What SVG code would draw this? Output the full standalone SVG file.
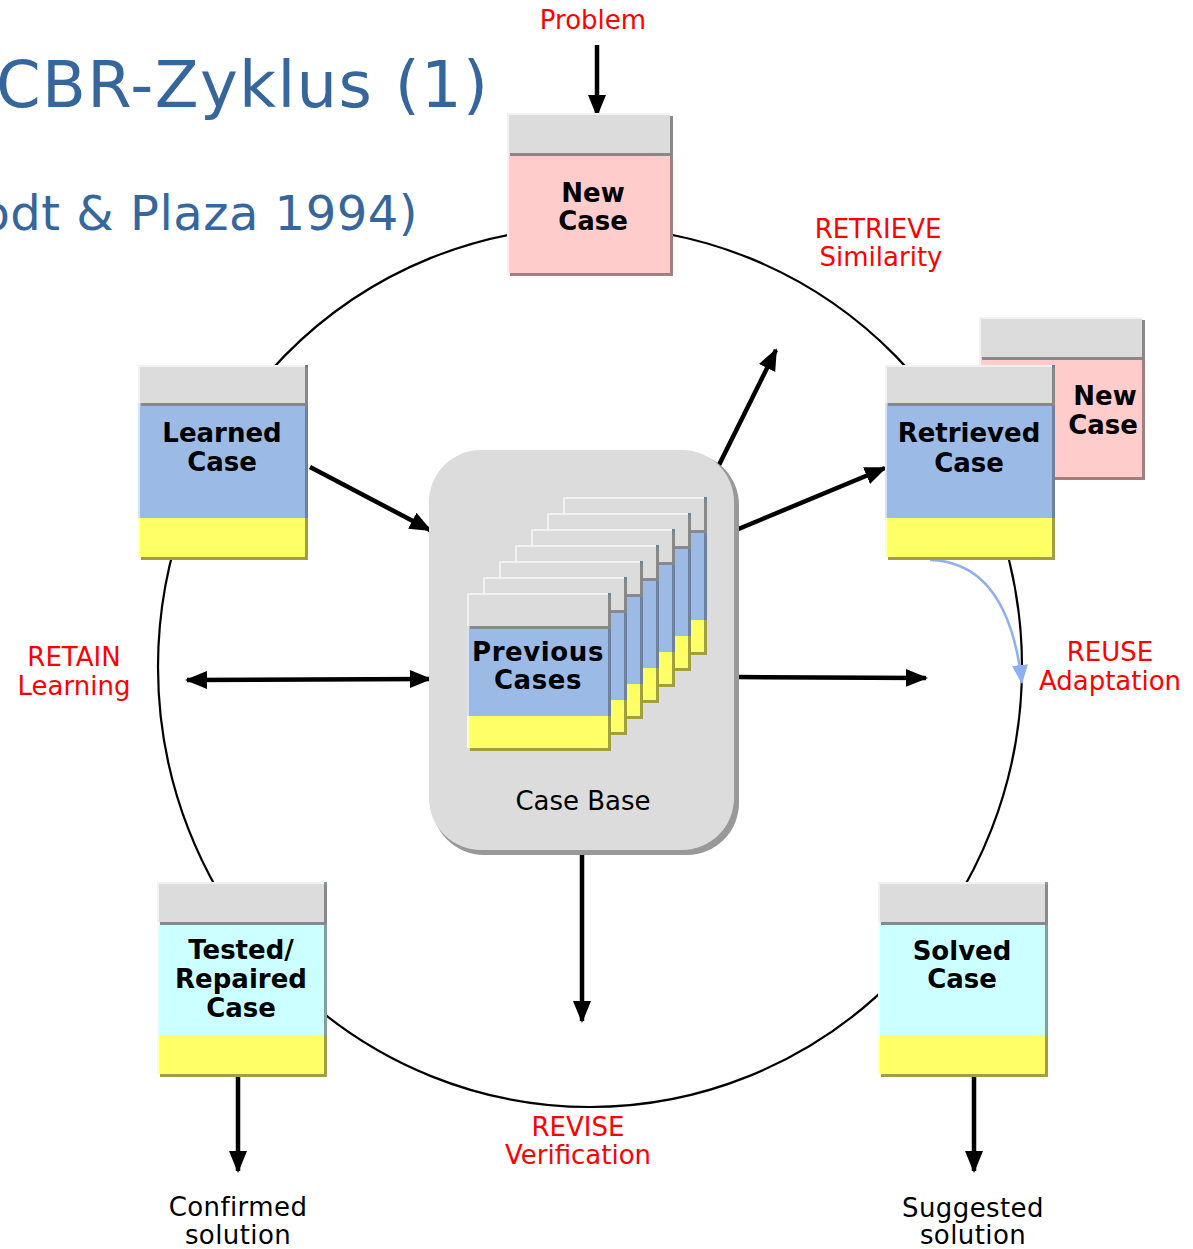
<svg xmlns="http://www.w3.org/2000/svg" width="1193" height="1249" viewBox="0 0 1193 1249">
<style>
.hd{fill:#dcdcdc}.hds{fill:#888888}
.bl{fill:#9bbae6}.bls{fill:#6d82a0}
.pk{fill:#ffcccc}.pks{fill:#a08080}
.cy{fill:#ccffff}.cys{fill:#80a0a0}
.ye{fill:#ffff66}.yes{fill:#a0a040}
.hl{fill:none;stroke:#ffffff;stroke-opacity:0.6;stroke-width:2}
.lbl{font-family:"DejaVu Sans",Verdana,sans-serif;font-weight:bold;font-size:26px;fill:#000;text-anchor:middle}
.red{font-family:"DejaVu Sans",Verdana,sans-serif;font-size:26px;fill:#ff0000;text-anchor:middle}
.blk{font-family:"DejaVu Sans",Verdana,sans-serif;font-size:26px;fill:#000;text-anchor:middle}
.ttl{font-family:"DejaVu Sans",Verdana,sans-serif;fill:#35679c}
.conn{stroke:#000;stroke-width:4.5;fill:none}
</style>
<defs>
<marker id="ah" markerUnits="userSpaceOnUse" markerWidth="24" markerHeight="20" refX="20" refY="9" orient="auto-start-reverse" viewBox="0 0 24 18">
<path d="M0,0 L22,9 L0,18 Z" fill="#000"/>
</marker>
<marker id="ahb" markerUnits="userSpaceOnUse" markerWidth="20" markerHeight="20" refX="18" refY="8" orient="auto" viewBox="0 0 20 16">
<path d="M0,0 L19,8 L0,16 Z" fill="#8fb0f0"/>
</marker>
</defs>

<rect width="1193" height="1249" fill="#ffffff"/>

<text class="ttl" x="-4" y="107" font-size="64" letter-spacing="1.3">CBR-Zyklus (1)</text>
<text class="ttl" x="418" y="230" font-size="48" text-anchor="end" letter-spacing="0.5">(Aamodt &amp; Plaza 1994)</text>

<ellipse cx="590" cy="667" rx="432" ry="440" fill="none" stroke="#000" stroke-width="2.2"/>

<g id="connectors">
<line class="conn" x1="597" y1="45" x2="597" y2="115" marker-end="url(#ah)"/>
<line class="conn" x1="310" y1="467" x2="430" y2="530" marker-end="url(#ah)"/>
<line class="conn" x1="718" y1="467" x2="776" y2="350" marker-end="url(#ah)"/>
<line class="conn" x1="736" y1="530" x2="885" y2="468" marker-end="url(#ah)"/>
<line class="conn" x1="187" y1="680" x2="430" y2="679" marker-start="url(#ah)" marker-end="url(#ah)"/>
<line class="conn" x1="737" y1="677" x2="926" y2="678" marker-end="url(#ah)"/>
<line class="conn" x1="582" y1="853" x2="582" y2="1021" marker-end="url(#ah)"/>
<line class="conn" x1="238" y1="1076" x2="238" y2="1171" marker-end="url(#ah)"/>
<line class="conn" x1="974" y1="1076" x2="974" y2="1171" marker-end="url(#ah)"/>
<path d="M930,560 Q1008,562 1022,683" fill="none" stroke="#8fb0f0" stroke-width="2.5" marker-end="url(#ahb)"/>
</g>

<g id="case-base">
<rect x="432" y="453" width="307" height="402" rx="52" fill="#999999"/>
<rect x="429" y="450" width="305" height="400" rx="52" fill="#dcdcdc"/>
<text class="blk" x="583" y="810">Case Base</text>
</g>

<g id="previous-cases">
<g transform="translate(563,497)">
<rect x="3" y="3" width="141" height="155" class="yes"/><rect x="3" y="0" width="141" height="123" class="bls"/><rect width="141" height="123" class="bl"/><rect y="123" width="141" height="32" class="ye"/><rect x="3" y="3" width="141" height="33" class="hds"/><rect width="141" height="33" class="hd"/><path class="hl" d="M1,155 L1,1 L141,1"/>
</g>
<g transform="translate(547,513)">
<rect x="3" y="3" width="141" height="155" class="yes"/><rect x="3" y="0" width="141" height="123" class="bls"/><rect width="141" height="123" class="bl"/><rect y="123" width="141" height="32" class="ye"/><rect x="3" y="3" width="141" height="33" class="hds"/><rect width="141" height="33" class="hd"/><path class="hl" d="M1,155 L1,1 L141,1"/>
</g>
<g transform="translate(531,529)">
<rect x="3" y="3" width="141" height="155" class="yes"/><rect x="3" y="0" width="141" height="123" class="bls"/><rect width="141" height="123" class="bl"/><rect y="123" width="141" height="32" class="ye"/><rect x="3" y="3" width="141" height="33" class="hds"/><rect width="141" height="33" class="hd"/><path class="hl" d="M1,155 L1,1 L141,1"/>
</g>
<g transform="translate(515,545)">
<rect x="3" y="3" width="141" height="155" class="yes"/><rect x="3" y="0" width="141" height="123" class="bls"/><rect width="141" height="123" class="bl"/><rect y="123" width="141" height="32" class="ye"/><rect x="3" y="3" width="141" height="33" class="hds"/><rect width="141" height="33" class="hd"/><path class="hl" d="M1,155 L1,1 L141,1"/>
</g>
<g transform="translate(499,561)">
<rect x="3" y="3" width="141" height="155" class="yes"/><rect x="3" y="0" width="141" height="123" class="bls"/><rect width="141" height="123" class="bl"/><rect y="123" width="141" height="32" class="ye"/><rect x="3" y="3" width="141" height="33" class="hds"/><rect width="141" height="33" class="hd"/><path class="hl" d="M1,155 L1,1 L141,1"/>
</g>
<g transform="translate(483,577)">
<rect x="3" y="3" width="141" height="155" class="yes"/><rect x="3" y="0" width="141" height="123" class="bls"/><rect width="141" height="123" class="bl"/><rect y="123" width="141" height="32" class="ye"/><rect x="3" y="3" width="141" height="33" class="hds"/><rect width="141" height="33" class="hd"/><path class="hl" d="M1,155 L1,1 L141,1"/>
</g>
<g transform="translate(467,593)">
<rect x="3" y="3" width="141" height="155" class="yes"/><rect x="3" y="0" width="141" height="123" class="bls"/><rect width="141" height="123" class="bl"/><rect y="123" width="141" height="32" class="ye"/><rect x="3" y="3" width="141" height="33" class="hds"/><rect width="141" height="33" class="hd"/><path class="hl" d="M1,155 L1,1 L141,1"/>
</g>
<text class="lbl" x="538" y="661" font-size="21" letter-spacing="0.6">Previous</text>
<text class="lbl" x="538" y="689" font-size="21" letter-spacing="0.6">Cases</text>
</g>

<g id="new-case">
<g transform="translate(507,113)">
<rect x="3" y="3" width="163" height="160" class="pks"/><rect width="163" height="160" class="pk"/><rect x="3" y="3" width="163" height="40" class="hds"/><rect width="163" height="40" class="hd"/><path class="hl" d="M1,160 L1,1 L163,1"/>
</g>
<text class="lbl" x="593" y="202">New</text>
<text class="lbl" x="593" y="230">Case</text>
</g>

<g id="new-case-2">
<g transform="translate(979,317)">
<rect x="3" y="3" width="163" height="160" class="pks"/><rect width="163" height="160" class="pk"/><rect x="3" y="3" width="163" height="40" class="hds"/><rect width="163" height="40" class="hd"/><path class="hl" d="M1,160 L1,1 L163,1"/>
</g>
<text class="lbl" x="1105" y="405">New</text>
<text class="lbl" x="1103" y="434">Case</text>
</g>

<g id="retrieved-case">
<g transform="translate(885,365)">
<rect x="3" y="3" width="167" height="192" class="yes"/><rect x="3" y="0" width="167" height="153" class="bls"/><rect width="167" height="153" class="bl"/><rect y="153" width="167" height="39" class="ye"/><rect x="3" y="3" width="167" height="38" class="hds"/><rect width="167" height="38" class="hd"/><path class="hl" d="M1,192 L1,1 L167,1"/>
</g>
<text class="lbl" x="969" y="442">Retrieved</text>
<text class="lbl" x="969" y="472">Case</text>
</g>

<g id="learned-case">
<g transform="translate(138,365)">
<rect x="3" y="3" width="167" height="192" class="yes"/><rect x="3" y="0" width="167" height="153" class="bls"/><rect width="167" height="153" class="bl"/><rect y="153" width="167" height="39" class="ye"/><rect x="3" y="3" width="167" height="38" class="hds"/><rect width="167" height="38" class="hd"/><path class="hl" d="M1,192 L1,1 L167,1"/>
</g>
<text class="lbl" x="222" y="442">Learned</text>
<text class="lbl" x="222" y="471">Case</text>
</g>

<g id="tested-case">
<g transform="translate(157,882)">
<rect x="3" y="3" width="167" height="192" class="yes"/><rect x="3" y="0" width="167" height="154" class="cys"/><rect width="167" height="154" class="cy"/><rect y="154" width="167" height="38" class="ye"/><rect x="3" y="3" width="167" height="40" class="hds"/><rect width="167" height="40" class="hd"/><path class="hl" d="M1,192 L1,1 L167,1"/>
</g>
<text class="lbl" x="241" y="959">Tested/</text>
<text class="lbl" x="241" y="988">Repaired</text>
<text class="lbl" x="241" y="1017">Case</text>
</g>

<g id="solved-case">
<g transform="translate(878,882)">
<rect x="3" y="3" width="167" height="192" class="yes"/><rect x="3" y="0" width="167" height="154" class="cys"/><rect width="167" height="154" class="cy"/><rect y="154" width="167" height="38" class="ye"/><rect x="3" y="3" width="167" height="40" class="hds"/><rect width="167" height="40" class="hd"/><path class="hl" d="M1,192 L1,1 L167,1"/>
</g>
<text class="lbl" x="962" y="960">Solved</text>
<text class="lbl" x="962" y="988">Case</text>
</g>

<g id="labels">
<text class="red" x="593" y="29">Problem</text>
<text class="red" x="878" y="238">RETRIEVE</text>
<text class="red" x="881" y="266">Similarity</text>
<text class="red" x="74" y="666">RETAIN</text>
<text class="red" x="74" y="695">Learning</text>
<text class="red" x="1110" y="661">REUSE</text>
<text class="red" x="1110" y="690">Adaptation</text>
<text class="red" x="578" y="1136">REVISE</text>
<text class="red" x="578" y="1164">Verification</text>
<text class="blk" x="238" y="1216" font-size="25" letter-spacing="0.4">Confirmed</text>
<text class="blk" x="238" y="1244" font-size="25" letter-spacing="0.4">solution</text>
<text class="blk" x="973" y="1217" font-size="25" letter-spacing="0.4">Suggested</text>
<text class="blk" x="973" y="1244" font-size="25" letter-spacing="0.4">solution</text>
</g>
</svg>
